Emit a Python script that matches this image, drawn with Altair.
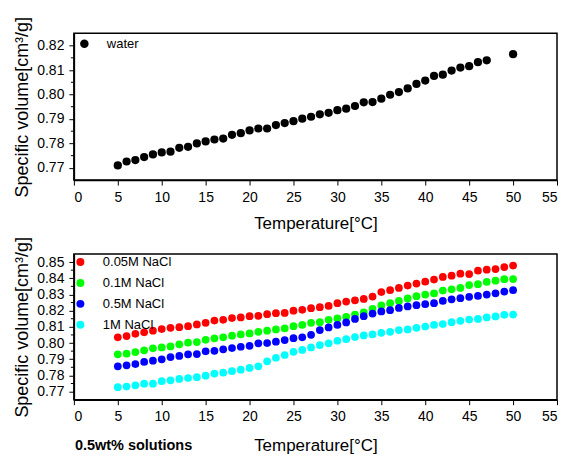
import altair as alt
import pandas as pd

FONT = "Liberation Sans"

# ---------------- data ----------------
water_temps = list(range(5, 48)) + [50]
water_vol = [0.7710, 0.7726, 0.7732, 0.7744, 0.7755, 0.7763, 0.7766, 0.7782, 0.7786, 0.7800,
             0.7808, 0.7816, 0.7820, 0.7835, 0.7842, 0.7853, 0.7861, 0.7861, 0.7875, 0.7883,
             0.7891, 0.7901, 0.7909, 0.7919, 0.7925, 0.7936, 0.7942, 0.7953, 0.7968, 0.7969,
             0.7983, 0.7999, 0.8010, 0.8025, 0.8043, 0.8057, 0.8076, 0.8081, 0.8098, 0.8110,
             0.8116, 0.8132, 0.8140, 0.8165]

salt_temps = list(range(5, 51))
series_names = ["0.05M NaCl", "0.1M NaCl", "0.5M NaCl", "1M NaCl"]
series_colors = ["#ff0000", "#00ff00", "#0000ff", "#00ffff"]
nacl_005 = [0.8035, 0.8043, 0.8057, 0.8066, 0.8076, 0.8086, 0.8094, 0.8098, 0.8104, 0.8115,
            0.8125, 0.8139, 0.8143, 0.8154, 0.8158, 0.8166, 0.8168, 0.8178, 0.8184, 0.8186,
            0.8200, 0.8205, 0.8215, 0.8221, 0.8229, 0.8246, 0.8256, 0.8264, 0.8272, 0.8287,
            0.8315, 0.8326, 0.8340, 0.8355, 0.8367, 0.8379, 0.8392, 0.8408, 0.8416, 0.8428,
            0.8426, 0.8447, 0.8453, 0.8457, 0.8469, 0.8478]
nacl_01 = [0.7930, 0.7934, 0.7944, 0.7955, 0.7967, 0.7973, 0.7979, 0.7992, 0.8002, 0.8006,
           0.8020, 0.8029, 0.8035, 0.8045, 0.8053, 0.8059, 0.8069, 0.8076, 0.8084, 0.8090,
           0.8104, 0.8112, 0.8125, 0.8129, 0.8143, 0.8152, 0.8162, 0.8176, 0.8190, 0.8211,
           0.8232, 0.8246, 0.8260, 0.8275, 0.8289, 0.8299, 0.8306, 0.8324, 0.8332, 0.8340,
           0.8358, 0.8363, 0.8377, 0.8385, 0.8394, 0.8395]
nacl_05 = [0.7856, 0.7862, 0.7870, 0.7883, 0.7891, 0.7899, 0.7913, 0.7920, 0.7930, 0.7932,
           0.7949, 0.7952, 0.7961, 0.7969, 0.7977, 0.7983, 0.7998, 0.8000, 0.8008, 0.8018,
           0.8030, 0.8035, 0.8051, 0.8080, 0.8096, 0.8112, 0.8127, 0.8149, 0.8166, 0.8182,
           0.8195, 0.8203, 0.8217, 0.8226, 0.8234, 0.8240, 0.8246, 0.8260, 0.8270, 0.8277,
           0.8285, 0.8291, 0.8299, 0.8307, 0.8318, 0.8326]
nacl_1 = [0.7727, 0.7731, 0.7739, 0.7749, 0.7749, 0.7764, 0.7770, 0.7778, 0.7784, 0.7789,
          0.7798, 0.7811, 0.7817, 0.7826, 0.7835, 0.7846, 0.7856, 0.7887, 0.7909, 0.7926,
          0.7946, 0.7957, 0.7973, 0.7987, 0.7998, 0.8014, 0.8024, 0.8037, 0.8047, 0.8053,
          0.8063, 0.8069, 0.8080, 0.8084, 0.8094, 0.8102, 0.8112, 0.8117, 0.8129, 0.8137,
          0.8145, 0.8149, 0.8158, 0.8164, 0.8174, 0.8176]

x_ticks = list(range(0, 56, 5))
top_major = [0.77, 0.78, 0.79, 0.80, 0.81, 0.82]
top_minor = [0.775, 0.785, 0.795, 0.805, 0.815]
bot_major = [0.77, 0.78, 0.79, 0.80, 0.81, 0.82, 0.83, 0.84, 0.85]
bot_minor = [0.775, 0.785, 0.795, 0.805, 0.815, 0.825, 0.835, 0.845]

x_title = "Temperature[°C]"
y_title = "Specific volume[cm³/g]"
note = "0.5wt% solutions"

# ---------------- frames ----------------
top_df = pd.DataFrame({"T": water_temps, "v": water_vol, "s": ["water"] * len(water_temps)})
rows = []
for name, vals in zip(series_names, [nacl_005, nacl_01, nacl_05, nacl_1]):
    for t, v in zip(salt_temps, vals):
        rows.append({"T": t, "v": v, "s": name})
bot_df = pd.DataFrame(rows)

W = 484


def xenc(pad):
    return alt.X("T:Q", title=x_title,
                 scale=alt.Scale(domain=[0, 55], nice=False, zero=False),
                 axis=alt.Axis(values=x_ticks, titlePadding=pad))


def yenc(domain, major):
    return alt.Y("v:Q", title=y_title,
                 scale=alt.Scale(domain=domain, nice=False, zero=False),
                 axis=alt.Axis(values=major, format=".2f"))


def minor_layer(vals, domain, major):
    return alt.Chart(pd.DataFrame({"v": vals})).mark_rule(color="black", strokeWidth=1).encode(
        y=yenc(domain, major),
        x=alt.value(-3), x2=alt.value(0))


top_dom = [0.765, 0.825]
top_pts = alt.Chart(top_df).mark_circle(size=68, opacity=1).encode(
    x=xenc(11),
    y=yenc(top_dom, top_major),
    color=alt.Color("s:N", scale=alt.Scale(domain=["water"], range=["#000000"]),
                    legend=alt.Legend(title=None, orient="none", legendX=4, legendY=4,
                                      symbolSize=72, labelOffset=16, padding=0,
                                      labelFontSize=13, labelFont=FONT,
                                      symbolType="circle", symbolStrokeWidth=0)),
)
top = alt.layer(top_pts, minor_layer(top_minor, top_dom, top_major)).properties(width=W, height=147)

bot_dom = [0.765, 0.855]
bot_pts = alt.Chart(bot_df).mark_circle(size=60, opacity=1).encode(
    x=xenc(14),
    y=yenc(bot_dom, bot_major),
    color=alt.Color("s:N", sort=series_names,
                    scale=alt.Scale(domain=series_names, range=series_colors),
                    legend=alt.Legend(title=None, orient="none", legendX=0, legendY=1.5,
                                      symbolSize=64, labelOffset=16, padding=0,
                                      rowPadding=7,
                                      labelFontSize=13, labelFont=FONT,
                                      symbolType="circle", symbolStrokeWidth=0)),
)
note_layer = alt.Chart(pd.DataFrame({"label": [note]})).mark_text(
    align="left", baseline="middle", font=FONT, fontSize=14.5, fontWeight="bold",
    color="black").encode(x=alt.value(1), y=alt.value(192), text="label:N")
bot = alt.layer(bot_pts, minor_layer(bot_minor, bot_dom, bot_major), note_layer).properties(width=W, height=146)

chart = alt.vconcat(top, bot, spacing=74, bounds="flush").resolve_scale(
    color="independent").configure(
    background="white", padding={"left": 5, "top": 7, "right": 0, "bottom": 0}).configure_view(
    stroke="black", strokeWidth=1.5).configure_axis(
    labelFont=FONT, labelFontSize=14, labelColor="black", labelPadding=5,
    titleFont=FONT, titleFontSize=17, titleFontWeight="normal", titleColor="black",
    tickColor="black", tickSize=5, tickWidth=1, domainColor="black", domainWidth=1.5,
    grid=False).configure_axisY(titleFontSize=18, titlePadding=5)

chart.save("out.html", embed_options={"renderer": "svg", "actions": False})
